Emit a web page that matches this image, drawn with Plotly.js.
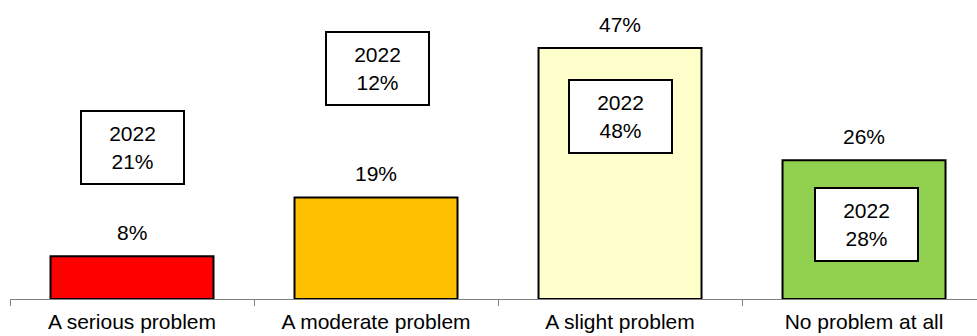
<!DOCTYPE html>
<html>
<head>
<meta charset="utf-8">
<script src="https://cdn.plot.ly/plotly-3.0.1.min.js"></script>
<style>html,body{margin:0;padding:0;background:#fff;}#chart{width:977px;height:336px;}</style>
</head>
<body>
<div id="chart"></div>
<script>
// ---- data ----
const categories = ["A serious problem", "A moderate problem", "A slight problem", "No problem at all"];
const values2024 = [8, 19, 47, 26];
const values2022 = [21, 12, 48, 28];
const compareLabel = "2022";
const barColors = ["#FF0000", "#FFC000", "#FFFFCC", "#92D050"];

// ---- layout config (positions of the comparison boxes, in y-axis units) ----
const boxY = [28.3, 43.1, 34.1, 14.0];
const boxXShift = [0, 1, 0, 2];

const FONT = "Liberation Sans, Arial, sans-serif";
const FS = 21;

const trace = {
  type: "bar",
  x: categories,
  y: values2024,
  width: 0.668,
  marker: { color: barColors, line: { color: "#000000", width: 2 } },
  hoverinfo: "none"
};

const annotations = [];
categories.forEach((c, i) => {
  annotations.push({
    x: c, y: values2024[i], xref: "x", yref: "y",
    text: values2024[i] + "%",
    showarrow: false, yanchor: "middle", yshift: 24,
    font: { family: FONT, size: FS, color: "#000" }
  });
  annotations.push({
    x: c, y: boxY[i], xref: "x", yref: "y",
    text: compareLabel + "<br>" + values2022[i] + "%",
    showarrow: false, xanchor: "center", yanchor: "middle",
    xshift: boxXShift[i],
    width: 101, height: 71,
    bgcolor: "#ffffff", bordercolor: "#000000", borderwidth: 2, borderpad: 0,
    font: { family: FONT, size: FS, color: "#000" }
  });
});

const layout = {
  width: 977, height: 336,
  margin: { l: 10, r: 0, t: 0, b: 37, pad: 0 },
  paper_bgcolor: "#fff", plot_bgcolor: "#fff",
  showlegend: false,
  font: { family: FONT, size: FS, color: "#000" },
  xaxis: {
    type: "category",
    range: [-0.5, 3.463],
    showline: true, linecolor: "#808080", linewidth: 1,
    ticks: "outside", tickson: "boundaries", ticklen: 6, tickcolor: "#808080", tickwidth: 1,
    ticklabelstandoff: 4,
    showgrid: false, zeroline: false,
    tickfont: { family: FONT, size: FS, color: "#000" }
  },
  yaxis: {
    range: [0, 56], visible: false, showgrid: false, zeroline: false, fixedrange: true
  },
  annotations: annotations
};

Plotly.newPlot("chart", [trace], layout, { displayModeBar: false, staticPlot: true });
</script>
</body>
</html>
